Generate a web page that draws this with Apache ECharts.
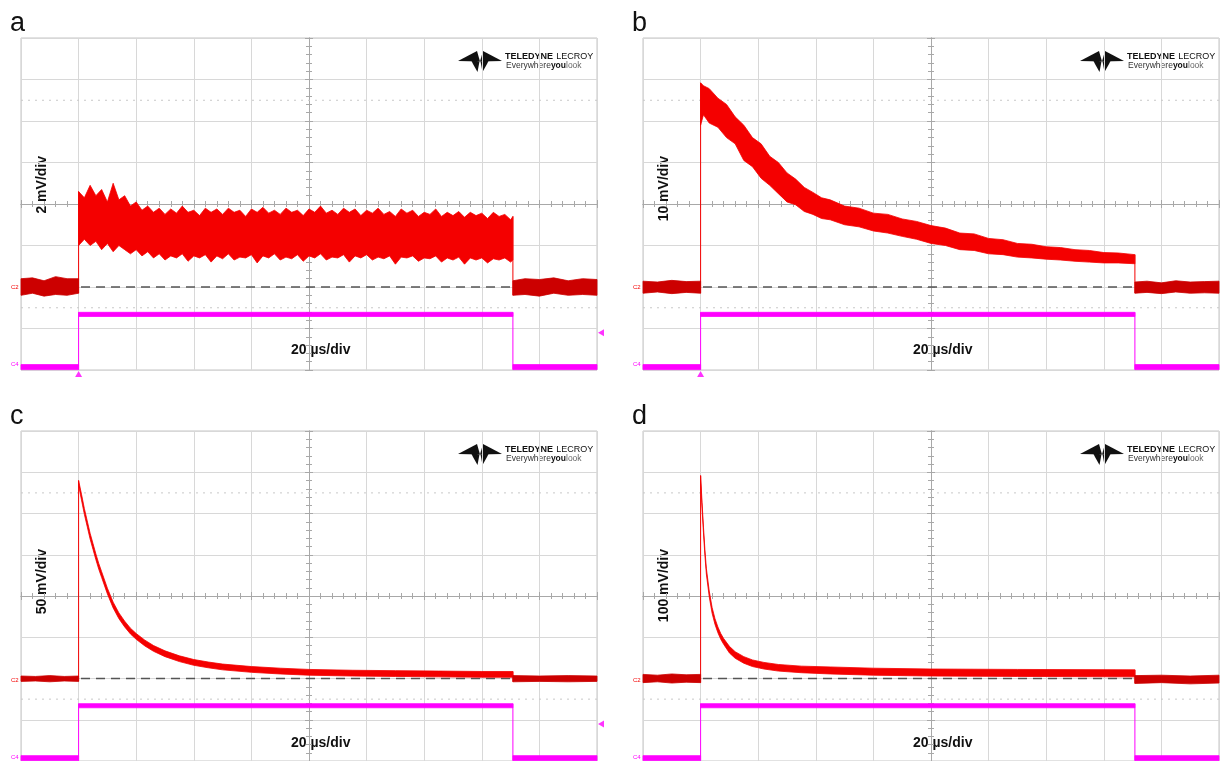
<!DOCTYPE html>
<html><head><meta charset="utf-8">
<script src="https://cdn.jsdelivr.net/npm/echarts@6/dist/echarts.min.js"></script>
<style>html,body{margin:0;padding:0;background:#fff}#c{width:1220px;height:761px}</style>
</head><body><div id="c"></div><script>
// ---------------- data (time in µs, 20 µs/div; vertical in screen divisions) ----------------
const X_MIN = 0, X_MAX = 200, X_STEP = 20;
const Y_MIN = -4, Y_MAX = 4, Y_STEP = 1;
const PANEL_LETTERS = ['a', 'b', 'c', 'd'];
const VOLT_SCALES = ['2 mV/div', '10 mV/div', '50 mV/div', '100 mV/div'];
const TIME_SCALE = '20 µs/div';
const C2_BASELINE = -2;
const CURSOR_LEVELS = [2.5, -2.5];
const TRIG_TIME = 20;
const TRIG_LEVEL = -3.1;

// Panel a – C2 (red) noise envelope
const A_T  = [0, 4, 8, 12, 16, 20,
  20, 22, 24, 26, 28, 30, 32, 34, 36, 38, 40, 42, 44, 46, 48, 50, 52, 54, 56, 58,
  60, 62, 64, 66, 68, 70, 72, 74, 76, 78, 80, 82, 84, 86, 88, 90, 92, 94, 96, 98,
  100, 102, 104, 106, 108, 110, 112, 114, 116, 118, 120, 122, 124, 126, 128, 130, 132, 134, 136, 138,
  140, 142, 144, 146, 148, 150, 152, 154, 156, 158, 160, 162, 164, 166, 168, 170, 170.8,
  170.8, 175, 180, 185, 190, 195, 200];
const A_LO = [-2.2, -2.15, -2.22, -2.18, -2.2, -2.15,
  -1.0, -0.85, -1.0, -0.9, -1.1, -0.95, -1.15, -1.0, -1.1, -1.2, -1.1, -1.25, -1.15, -1.3, -1.2, -1.35, -1.25, -1.3, -1.2, -1.38,
  -1.25, -1.3, -1.22, -1.4, -1.25, -1.32, -1.2, -1.35, -1.28, -1.3, -1.22, -1.42, -1.25, -1.3, -1.2, -1.35, -1.28, -1.32, -1.22, -1.38,
  -1.25, -1.3, -1.2, -1.35, -1.28, -1.3, -1.22, -1.4, -1.25, -1.3, -1.22, -1.35, -1.28, -1.32, -1.25, -1.45, -1.28, -1.3, -1.25, -1.38,
  -1.3, -1.32, -1.25, -1.4, -1.3, -1.35, -1.28, -1.45, -1.3, -1.35, -1.3, -1.42, -1.32, -1.35, -1.3, -1.4, -1.35,
  -2.2, -2.18, -2.22, -2.15, -2.2, -2.18, -2.2];
const A_HI = [-1.8, -1.78, -1.85, -1.75, -1.8, -1.8,
  0.3, 0.15, 0.45, 0.2, 0.35, 0.05, 0.5, 0.1, 0.2, -0.05, 0.05, -0.15, -0.05, -0.2, -0.1, -0.25, -0.12, -0.22, -0.05, -0.2,
  -0.15, -0.28, -0.1, -0.2, -0.12, -0.25, -0.1, -0.2, -0.15, -0.3, -0.12, -0.2, -0.08, -0.22, -0.15, -0.25, -0.1, -0.2, -0.15, -0.28,
  -0.12, -0.2, -0.05, -0.22, -0.15, -0.25, -0.1, -0.2, -0.12, -0.28, -0.15, -0.22, -0.1, -0.25, -0.18, -0.3, -0.12, -0.22, -0.15, -0.3,
  -0.2, -0.25, -0.12, -0.3, -0.2, -0.28, -0.18, -0.32, -0.2, -0.28, -0.22, -0.35, -0.2, -0.3, -0.25, -0.38, -0.3,
  -1.85, -1.8, -1.82, -1.78, -1.85, -1.8, -1.82];

// Panel b
const B_T  = [0, 5, 10, 15, 20,
  20, 21, 23, 26, 29, 32, 35, 38, 41, 44, 47, 50, 53, 56, 59, 62, 65, 70, 75, 80,
  85, 90, 95, 100, 105, 110, 115, 120, 125, 130, 135, 140, 145, 150, 155, 160, 165, 170.8,
  170.8, 175, 180, 185, 190, 195, 200];
const B_LO = [-2.15, -2.12, -2.16, -2.13, -2.15,
  1.9, 2.15, 1.95, 1.85, 1.6, 1.45, 1.05, 0.9, 0.62, 0.45, 0.25, 0.05, -0.02, -0.18, -0.25, -0.35, -0.38, -0.5, -0.55, -0.65,
  -0.7, -0.78, -0.85, -0.95, -1.0, -1.1, -1.12, -1.2, -1.22, -1.28, -1.3, -1.33, -1.35, -1.38, -1.4, -1.42, -1.42, -1.44,
  -2.15, -2.13, -2.16, -2.12, -2.15, -2.14, -2.15];
const B_HI = [-1.86, -1.88, -1.84, -1.87, -1.86,
  2.92, 2.85, 2.78, 2.55, 2.4, 2.1, 1.9, 1.6, 1.45, 1.15, 1.0, 0.75, 0.6, 0.4, 0.28, 0.15, 0.1, -0.05, -0.1, -0.22,
  -0.25, -0.36, -0.42, -0.52, -0.58, -0.7, -0.72, -0.83, -0.86, -0.95, -0.97, -1.03, -1.05, -1.1, -1.12, -1.17, -1.18, -1.22,
  -1.88, -1.86, -1.9, -1.85, -1.88, -1.87, -1.86];

// Panel c
const C_T  = [0, 5, 10, 15, 20,
  20, 21, 22, 23, 24, 25, 26, 27, 28, 30, 32, 34, 36, 38, 40, 43, 46, 50, 55, 60, 65, 70, 80, 90, 100,
  115, 130, 145, 160, 170.8,
  170.8, 180, 190, 200];
const C_LO = [-2.07, -2.06, -2.08, -2.06, -2.07,
  2.68, 2.33, 1.98, 1.68, 1.38, 1.13, 0.88, 0.65, 0.45, 0.05, -0.29, -0.55, -0.75, -0.92, -1.05, -1.21,
  -1.34, -1.47, -1.59, -1.68, -1.74, -1.79, -1.85, -1.89, -1.92, -1.94, -1.95, -1.96, -1.97, -1.97,
  -2.08, -2.07, -2.08, -2.07];
const C_HI = [-1.94, -1.95, -1.93, -1.95, -1.94,
  2.8, 2.47, 2.12, 1.82, 1.52, 1.27, 1.02, 0.79, 0.59, 0.19, -0.15, -0.41, -0.61, -0.78, -0.91, -1.07,
  -1.2, -1.33, -1.45, -1.54, -1.6, -1.65, -1.71, -1.75, -1.78, -1.8, -1.81, -1.82, -1.83, -1.83,
  -1.93, -1.94, -1.93, -1.94];

// Panel d
const D_T  = [0, 5, 10, 15, 20,
  20, 20.5, 21, 21.5, 22, 23, 24, 25, 26, 27, 28, 30, 32, 35, 38, 42, 47, 55, 65, 80, 100, 130, 170.8,
  170.8, 180, 190, 200];
const D_LO = [-2.1, -2.08, -2.11, -2.09, -2.1,
  2.8, 2.13, 1.53, 0.98, 0.53, -0.02, -0.42, -0.69, -0.89, -1.05, -1.17, -1.38, -1.51, -1.63, -1.71,
  -1.77, -1.82, -1.86, -1.89, -1.92, -1.94, -1.95, -1.96,
  -2.12, -2.1, -2.13, -2.11];
const D_HI = [-1.9, -1.92, -1.89, -1.91, -1.9,
  2.92, 2.27, 1.67, 1.12, 0.67, 0.12, -0.28, -0.55, -0.75, -0.91, -1.03, -1.22, -1.35, -1.47, -1.55,
  -1.61, -1.66, -1.7, -1.72, -1.75, -1.77, -1.78, -1.79,
  -1.93, -1.92, -1.94, -1.92];

// C4 gate (magenta)
const G_T  = [0, 20, 20, 170.8, 170.8, 200];
const G_LO = [-3.99, -3.99, -2.71, -2.71, -3.99, -3.99];
const G_HI = [-3.87, -3.87, -2.61, -2.61, -3.87, -3.87];

// ---------------- layout ----------------
const BOX = [[21, 38], [643, 38], [21, 431], [643, 431]];
const GW = 576, GH = 332;
const RED = '#f40000', RED_DARK = '#cc0000', MAG = '#ff00ff';
const FONT = '"Liberation Sans", Arial, sans-serif';
const AX = '#a8a8a8';

const TRACES = [[A_T, A_LO, A_HI], [B_T, B_LO, B_HI], [C_T, C_LO, C_HI], [D_T, D_LO, D_HI]];

// band drawn through the axis scales; segments split where time repeats (a step)
function bandSeries(idx, T, LO, HI, colors, z) {
  const rows = T.map((t, k) => [t, LO[k], HI[k]]);
  return {
    type: 'custom', xAxisIndex: idx, yAxisIndex: idx, z: z, silent: true,
    data: rows, encode: {x: 0, y: [1, 2]},
    renderItem: function (params, api) {
      if (params.dataIndex !== 0) return null;
      const segs = [[]];
      rows.forEach((r, k) => {
        if (k > 0 && r[0] === rows[k - 1][0]) segs.push([]);
        segs[segs.length - 1].push(r);
      });
      const children = [];
      for (let s = 1; s < segs.length; s++) {
        const a = segs[s - 1][segs[s - 1].length - 1], b = segs[s][0];
        const p1 = api.coord([a[0], Math.min(a[1], b[1])]), p2 = api.coord([b[0], Math.max(a[2], b[2])]);
        children.push({type: 'line', shape: {x1: p1[0], y1: p1[1], x2: p2[0], y2: p2[1]},
          style: {stroke: colors[1], lineWidth: 1}});
      }
      segs.forEach((sg, s) => {
        const upper = sg.map(r => api.coord([r[0], r[2]]));
        const lower = sg.map(r => api.coord([r[0], r[1]])).reverse();
        const c = colors[s % 2 === 1 ? 1 : 0];
        children.push({type: 'polygon', shape: {points: upper.concat(lower)},
          style: {fill: c, stroke: c, lineWidth: 0.8}});
      });
      return {type: 'group', children: children};
    }
  };
}

const grids = [], xAxes = [], yAxes = [], series = [], graphics = [];
// axes 0-3: main grid lines; the time axis line sits on the vertical centre with upward ticks
for (let i = 0; i < 4; i++) {
  const [ox, oy] = BOX[i];
  grids.push({left: ox, top: oy, width: GW, height: GH, show: true, borderColor: '#c4c4c4', borderWidth: 1, backgroundColor: 'transparent'});
  xAxes.push({type: 'value', gridIndex: i, min: X_MIN, max: X_MAX, interval: X_STEP,
    axisLine: {show: true, onZero: true, onZeroAxisIndex: i, lineStyle: {color: AX, width: 1}},
    axisTick: {show: true, inside: true, length: 4, lineStyle: {color: AX}},
    minorTick: {show: true, splitNumber: 5, length: 3, lineStyle: {color: AX}},
    axisLabel: {show: false},
    splitLine: {show: true, lineStyle: {color: '#d8d8d8', width: 1}}});
  yAxes.push({type: 'value', gridIndex: i, min: Y_MIN, max: Y_MAX, interval: Y_STEP,
    axisLine: {show: false, onZero: false}, axisTick: {show: false}, axisLabel: {show: false},
    splitLine: {show: true, lineStyle: {color: '#d8d8d8', width: 1}}});
}
// axes 4-7: centred helper (x) and vertical centre line with inward ticks
for (let i = 0; i < 4; i++) {
  xAxes.push({type: 'value', gridIndex: i, min: -(X_MAX - X_MIN) / 2, max: (X_MAX - X_MIN) / 2, show: false,
    axisLine: {onZero: false}});
  yAxes.push({type: 'value', gridIndex: i, min: Y_MIN, max: Y_MAX, interval: Y_STEP, position: 'left',
    axisLine: {show: true, onZero: true, onZeroAxisIndex: 4 + i, lineStyle: {color: AX, width: 1}},
    axisTick: {show: true, inside: true, length: 4, lineStyle: {color: AX}},
    minorTick: {show: true, splitNumber: 5, length: 3, lineStyle: {color: AX}},
    axisLabel: {show: false}, splitLine: {show: false}});
}
// axes 8-11: second half of the crossing ticks on the centre lines
for (let i = 0; i < 4; i++) {
  xAxes.push({type: 'value', gridIndex: i, min: X_MIN, max: X_MAX, interval: X_STEP, position: 'bottom',
    axisLine: {show: true, onZero: true, onZeroAxisIndex: i, lineStyle: {color: AX, width: 1}},
    axisTick: {show: true, inside: false, length: 4, lineStyle: {color: AX}},
    minorTick: {show: true, splitNumber: 5, length: 3, lineStyle: {color: AX}},
    axisLabel: {show: false}, splitLine: {show: false}});
  yAxes.push({type: 'value', gridIndex: i, min: Y_MIN, max: Y_MAX, interval: Y_STEP, position: 'left',
    axisLine: {show: true, onZero: true, onZeroAxisIndex: 4 + i, lineStyle: {color: AX, width: 1}},
    axisTick: {show: true, inside: false, length: 4, lineStyle: {color: AX}},
    minorTick: {show: true, splitNumber: 5, length: 3, lineStyle: {color: AX}},
    axisLabel: {show: false}, splitLine: {show: false}});
}

for (let i = 0; i < 4; i++) {
  const [ox, oy] = BOX[i];
  CURSOR_LEVELS.forEach(v => series.push({type: 'line', xAxisIndex: i, yAxisIndex: i, silent: true,
    data: [[X_MIN, v], [X_MAX, v]], symbol: 'none', z: 1,
    lineStyle: {color: '#c8c8c8', width: 1, type: [2, 5]}}));
  series.push({type: 'line', xAxisIndex: i, yAxisIndex: i, silent: true,
    data: [[X_MIN, C2_BASELINE], [X_MAX, C2_BASELINE]], symbol: 'none', z: 2,
    lineStyle: {color: '#555', width: 1.5, type: [9, 6]}});
  series.push(bandSeries(i, TRACES[i][0], TRACES[i][1], TRACES[i][2], [RED_DARK, RED], 4));
  series.push(bandSeries(i, G_T, G_LO, G_HI, [MAG, MAG], 3));
  series.push({type: 'scatter', xAxisIndex: i, yAxisIndex: i, silent: true, clip: false, z: 5,
    data: [[TRIG_TIME, Y_MIN]], symbol: 'triangle', symbolSize: [7, 6], symbolOffset: [0, 4],
    itemStyle: {color: MAG}});
  series.push({type: 'scatter', xAxisIndex: i, yAxisIndex: i, silent: true, clip: false, z: 5,
    data: [[X_MAX, TRIG_LEVEL]], symbol: 'triangle', symbolSize: [7, 6], symbolRotate: 90, symbolOffset: [4, 0],
    itemStyle: {color: MAG}});

  graphics.push({type: 'text', x: ox - 11, y: oy - 14, style: {text: PANEL_LETTERS[i], font: '27px ' + FONT, fill: '#111', verticalAlign: 'middle'}});
  graphics.push({type: 'text', x: ox + 21.5, y: oy + 118, rotation: Math.PI / 2,
    style: {text: VOLT_SCALES[i], font: 'bold 14px ' + FONT, fill: '#111', align: 'right', verticalAlign: 'middle'}});
  graphics.push({type: 'text', x: ox + 270, y: oy + 312,
    style: {text: TIME_SCALE, font: 'bold 14px ' + FONT, fill: '#111', align: 'left', verticalAlign: 'middle'}});
  graphics.push({type: 'text', x: ox - 10, y: oy + 246, style: {text: 'C2', font: '6px ' + FONT, fill: RED}});
  graphics.push({type: 'text', x: ox - 10, y: oy + 323, style: {text: 'C4', font: '6px ' + FONT, fill: MAG}});
  const lx = ox + 437, ly = oy + 12;
  graphics.push({type: 'group', x: lx, y: ly, children: [
    {type: 'polygon', shape: {points: [[0, 11], [19, 1], [22, 11.5]]}, style: {fill: '#111'}},
    {type: 'polygon', shape: {points: [[44, 11], [25, 1], [22, 11.5]]}, style: {fill: '#111'}},
    {type: 'polygon', shape: {points: [[13, 10], [21.5, 11.5], [19.5, 22], [15, 14]]}, style: {fill: '#111'}},
    {type: 'polygon', shape: {points: [[31, 10], [22.5, 11.5], [24.5, 22], [29, 14]]}, style: {fill: '#111'}},
    {type: 'text', x: 47, y: 0.5, style: {text: '{b|TELEDYNE} {n|LECROY}', verticalAlign: 'top',
      rich: {b: {font: 'bold 9px ' + FONT, fill: '#111'}, n: {font: '9px ' + FONT, fill: '#111'}}}},
    {type: 'text', x: 48, y: 11, style: {text: '{n|Everywhere}{b|you}{l|look}', verticalAlign: 'top',
      rich: {n: {font: '8.5px ' + FONT, fill: '#333'}, b: {font: 'bold 8.5px ' + FONT, fill: '#111'}, l: {font: '8.5px ' + FONT, fill: '#666'}}}}
  ]});
}

const chart = echarts.init(document.getElementById('c'), null, {renderer: 'canvas'});
chart.setOption({
  backgroundColor: '#fff', animation: false,
  grid: grids, xAxis: xAxes, yAxis: yAxes, series: series, graphic: graphics
});
</script></body></html>
